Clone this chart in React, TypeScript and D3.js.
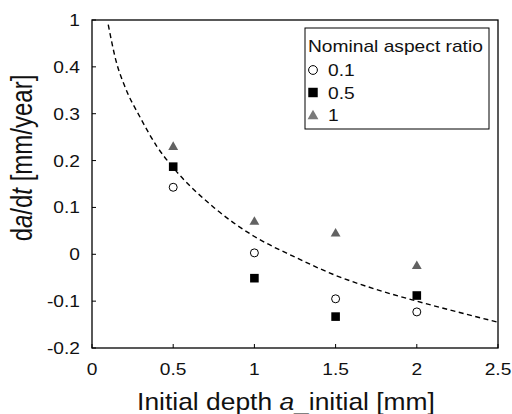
import React from 'react'
import * as d3 from 'd3'

// measured points, nominal aspect ratio 0.1 / 0.5 / 1
const depths = [0.5, 1, 1.5, 2]
const ratio01 = [0.143, 0.003, -0.095, -0.123]
const ratio05 = [0.187, -0.051, -0.133, -0.088]
const ratio1 = [0.231, 0.071, 0.046, -0.023]

// dashed trend line
const curveX = [0.1, 0.15, 0.2, 0.3, 0.4, 0.5, 0.75, 1, 1.25, 1.5, 1.75, 2, 2.25, 2.5]
const curveY = [0.49, 0.41, 0.36, 0.29, 0.23, 0.185, 0.1, 0.038, -0.006, -0.045, -0.075, -0.1, -0.123, -0.145]

const xTicks = [0, 0.5, 1, 1.5, 2, 2.5]
const xTickLabels = ['0', '0.5', '1', '1.5', '2', '2.5']
const yTicks = [-0.2, -0.1, 0, 0.1, 0.2, 0.3, 0.4, 0.5]
const yTickLabels = ['-0.2', '-0.1', '0', '0.1', '0.2', '0.3', '0.4', '1']

const legendTitle = 'Nominal aspect ratio'
const legendLabels = ['0.1', '0.5', '1']

const W = 512
const H = 414
const margin = { top: 20, right: 14, bottom: 66, left: 92 }
const FONT = 'Liberation Sans, Arial, sans-serif'
const GRAY = '#626262'

export default function App() {
  let iw = W - margin.left - margin.right
  let ih = H - margin.top - margin.bottom
  let x = d3.scaleLinear().domain([0, 2.5]).range([0, iw])
  let y = d3.scaleLinear().domain([-0.2, 0.5]).range([ih, 0])

  let line = d3.line<number>()
    .x((d, i) => x(curveX[i]))
    .y((d) => y(d))
    .curve(d3.curveMonotoneX)

  const marker = (k: number, cx: number, cy: number, key: string, s = 1) => {
    if (k === 0)
      return <circle key={key} cx={cx} cy={cy} r={4 * s} fill="#fff" stroke="#000" strokeWidth={1} />
    if (k === 1)
      return <rect key={key} x={cx - 4.3 * s} y={cy - 4.3 * s} width={8.6 * s} height={8.6 * s} fill="#000" />
    let tri = d3.symbol().type(d3.symbolTriangle).size(42 * s * s)()
    return <path key={key} d={tri as string} transform={`translate(${cx},${cy + 1})`} fill={s > 1 ? '#7a7a7a' : GRAY} />
  }

  let series = [ratio01, ratio05, ratio1]

  return (
    <svg width={W} height={H} style={{ position: 'absolute', left: 0, top: 0, background: '#fff' }} fontFamily={FONT}>
      <defs>
        <clipPath id="plotclip">
          <rect x={0} y={0} width={iw} height={ih} />
        </clipPath>
      </defs>
      <g transform={`translate(${margin.left},${margin.top})`}>
        {/* dashed curve */}
        <path d={line(curveY) as string} fill="none" stroke="#000" strokeWidth={1.4}
          strokeDasharray="5,3.5" clipPath="url(#plotclip)" />

        {/* points */}
        {series.map((vals, k) =>
          vals.map((v, i) => marker(k, x(depths[i]), y(v), `p${k}-${i}`))
        )}

        {/* frame */}
        <rect x={0} y={0} width={iw} height={ih} fill="none" stroke="#000" strokeWidth={1.3} />

        {/* x ticks */}
        {xTicks.map((t, i) => (
          <g key={'xt' + i}>
            <line x1={x(t)} x2={x(t)} y1={ih} y2={ih - 4} stroke="#000" strokeWidth={1} />
            <text transform={`translate(${x(t)},${ih + 27}) scale(1.13,1)`} textAnchor="middle" fontSize={17} fill="#111">{xTickLabels[i]}</text>
          </g>
        ))}

        {/* y ticks */}
        {yTicks.map((t, i) => (
          <g key={'yt' + i}>
            <line x1={0} x2={4} y1={y(t)} y2={y(t)} stroke="#000" strokeWidth={1} />
            <text transform={`translate(-12,${y(t)}) scale(1.13,1)`} textAnchor="end" dy="0.35em" fontSize={17} fill="#111">{yTickLabels[i]}</text>
          </g>
        ))}

        {/* legend */}
        <g transform={`translate(${305 - margin.left},${28 - margin.top})`}>
          <rect x={0} y={0} width={184} height={101} fill="#fff" stroke="#000" strokeWidth={1} />
          <text transform="translate(3,24) scale(1.2,1)" fontSize={16} fill="#111">{legendTitle}</text>
          {legendLabels.map((l, k) => (
            <g key={'lg' + k}>
              {marker(k, 8, 42 + k * 22.5, 'lm' + k, 1.1)}
              <text transform={`translate(23,${48 + k * 22.5}) scale(1.2,1)`} fontSize={16} fill="#111">{l}</text>
            </g>
          ))}
        </g>
      </g>

      {/* axis titles */}
      <text transform="translate(286,410) scale(1.1,1)" textAnchor="middle" fontSize={24} fill="#111">
        Initial depth <tspan fontStyle="italic">a</tspan>_initial [mm]
      </text>
      <text transform="translate(32,158) rotate(-90) scale(1,1.22)" textAnchor="middle" fontSize={24} fill="#111">
        d<tspan fontStyle="italic">a</tspan>/d<tspan fontStyle="italic">t</tspan> [mm/year]
      </text>
    </svg>
  )
}
